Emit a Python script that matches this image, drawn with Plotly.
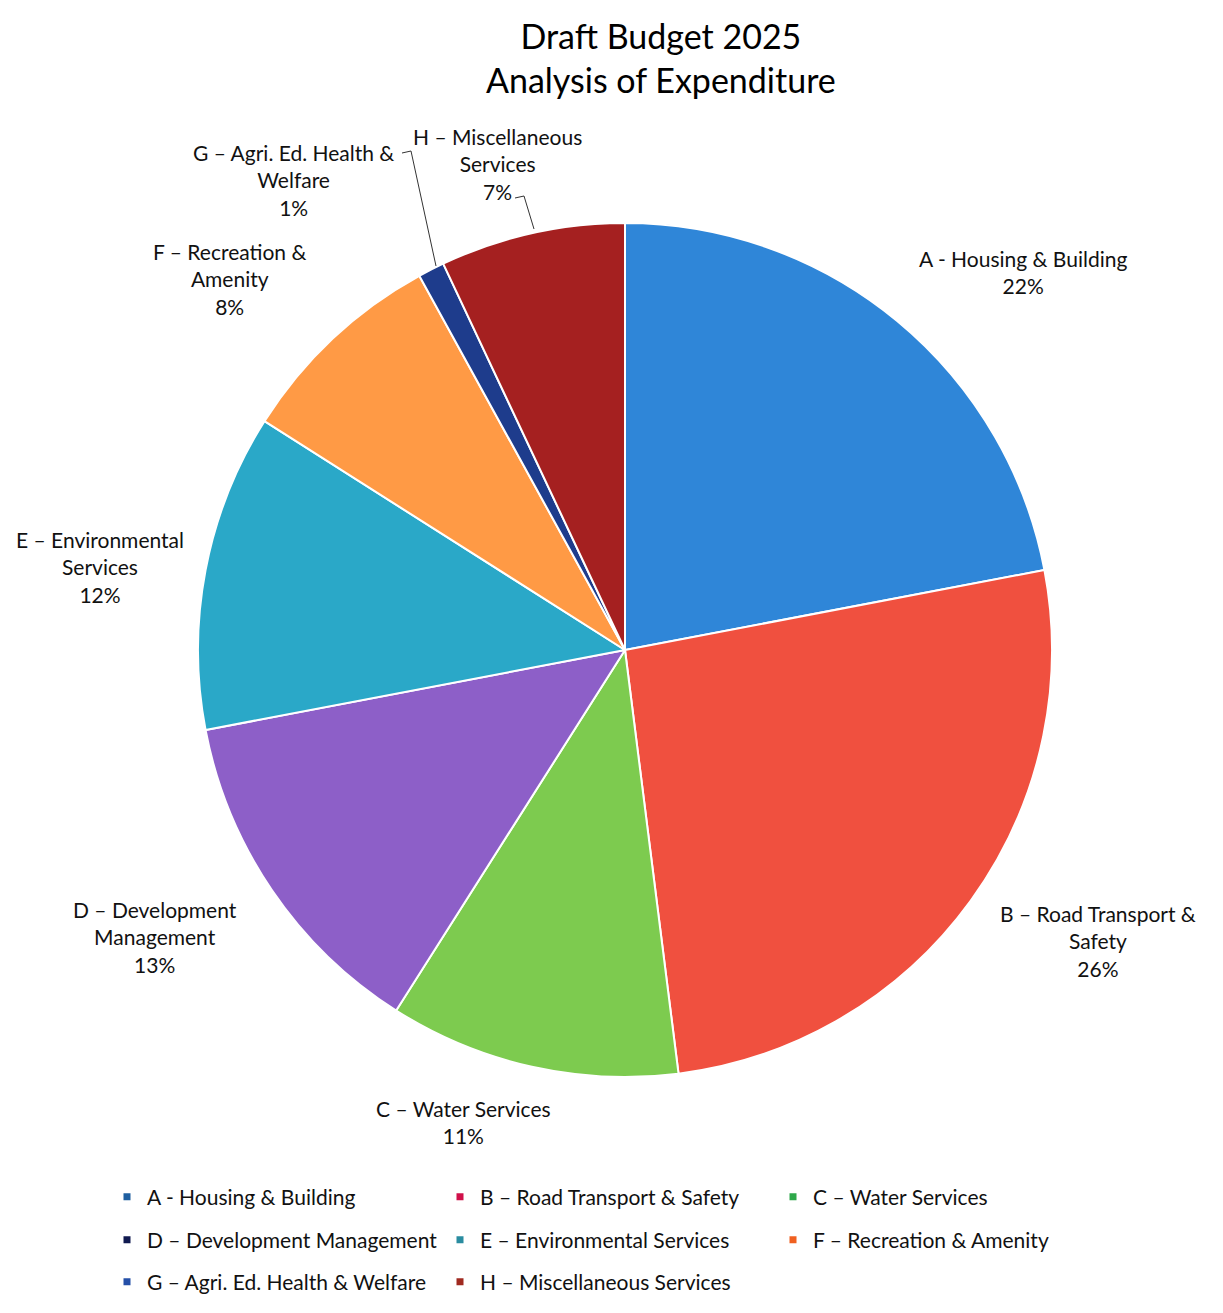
import plotly.graph_objects as go

W, H = 1223, 1313
OFF = 8  # page body margin offset

categories = ["A - Housing & Building", "B – Road Transport & Safety", "C – Water Services",
              "D – Development Management", "E – Environmental Services", "F – Recreation & Amenity",
              "G – Agri. Ed. Health & Welfare", "H – Miscellaneous Services"]
values = [22, 26, 11, 13, 12, 8, 1, 7]
slice_colors = ["#2F86D8", "#F0503F", "#7DCB4F", "#8D5FC8", "#2AA8C8", "#FF9A45", "#1E3C8C", "#A52020"]
legend_colors = ["#1F5FA0", "#D0104A", "#2EA84A", "#101A50", "#2A8CA0", "#F06020", "#2550A8", "#A02A20"]
# wrapped label text for the outside labels
label_lines = [["A - Housing & Building"], ["B – Road Transport &", "Safety"], ["C – Water Services"],
               ["D – Development", "Management"], ["E – Environmental", "Services"],
               ["F – Recreation &", "Amenity"], ["G – Agri. Ed. Health &", "Welfare"],
               ["H – Miscellaneous", "Services"]]

FONT = "Lato"

def px(x, y):
    return (x - OFF) / W, 1 - (y - OFF) / H

cx, cy, r = 625, 650, 427
fig = go.Figure()
x0, y1 = px(cx - r, cy - r)
x1, y0 = px(cx + r, cy + r)
fig.add_trace(go.Pie(
    labels=categories, values=values, sort=False, direction="clockwise", rotation=0,
    marker=dict(colors=slice_colors, line=dict(color="white", width=2)),
    textinfo="none", hoverinfo="label+percent", showlegend=False,
    domain=dict(x=[x0, x1], y=[y0, y1]),
))

# legend entries (three rows, one legend each)
rows = [[0, 1, 2], [3, 4, 5], [6, 7]]
legend_names = ["legend", "legend2", "legend3"]
for ri, row in enumerate(rows):
    for i in row:
        fig.add_trace(go.Scatter(x=[None], y=[None], mode="markers", name=categories[i],
                                 marker=dict(symbol="square", size=7, color=legend_colors[i]),
                                 legend=legend_names[ri], showlegend=True))

legend_y = [1197, 1240, 1282]
leg_common = dict(orientation="h", xanchor="left", yanchor="middle", entrywidth=288,
                  entrywidthmode="pixels", font=dict(family=FONT, size=21, color="#111"),
                  bgcolor="rgba(0,0,0,0)", itemwidth=30, traceorder="normal")
layout_leg = {}
for ri, name in enumerate(legend_names):
    lx, ly = px(107, legend_y[ri])
    layout_leg[name] = dict(x=lx, y=ly, **leg_common)

# outside labels
total = sum(values)
label_pos = [(1023, 272), (1098, 941), (463, 1122), (155, 937), (100, 567), (230, 279), (293, 180), (497, 164)]
anns = []
for i, (lx, ly) in enumerate(label_pos):
    pct = round(values[i] / total * 100)
    txt = "<br>".join(label_lines[i] + [f"{pct}%"])
    x, y = px(lx, ly)
    anns.append(dict(x=x, y=y, xref="paper", yref="paper", text=txt, showarrow=False,
                     xanchor="center", yanchor="middle", align="center",
                     font=dict(family=FONT, size=21, color="#111")))

tx, ty = px(661, 58)
anns.append(dict(x=tx, y=ty, xref="paper", yref="paper",
                 text="Draft Budget 2025<br>Analysis of Expenditure", showarrow=False,
                 xanchor="center", yanchor="middle", align="center",
                 font=dict(family=FONT, size=34, color="#000")))

# leader lines for small slices
def line_path(points):
    pts = [px(a, b) for a, b in points]
    d = "M " + " L ".join(f"{a},{b}" for a, b in pts)
    return dict(type="path", path=d, xref="paper", yref="paper",
                line=dict(color="#333", width=1))

shapes = [line_path([(402, 153), (411, 151), (436, 266)]),
          line_path([(515, 198), (524, 196), (534, 229)])]

fig.update_layout(
    width=W, height=H, autosize=False,
    margin=dict(l=0, r=0, t=0, b=0),
    paper_bgcolor="white", plot_bgcolor="white",
    xaxis=dict(visible=False), yaxis=dict(visible=False),
    annotations=anns, shapes=shapes,
    **layout_leg,
)

fig.write_html("out.html")
